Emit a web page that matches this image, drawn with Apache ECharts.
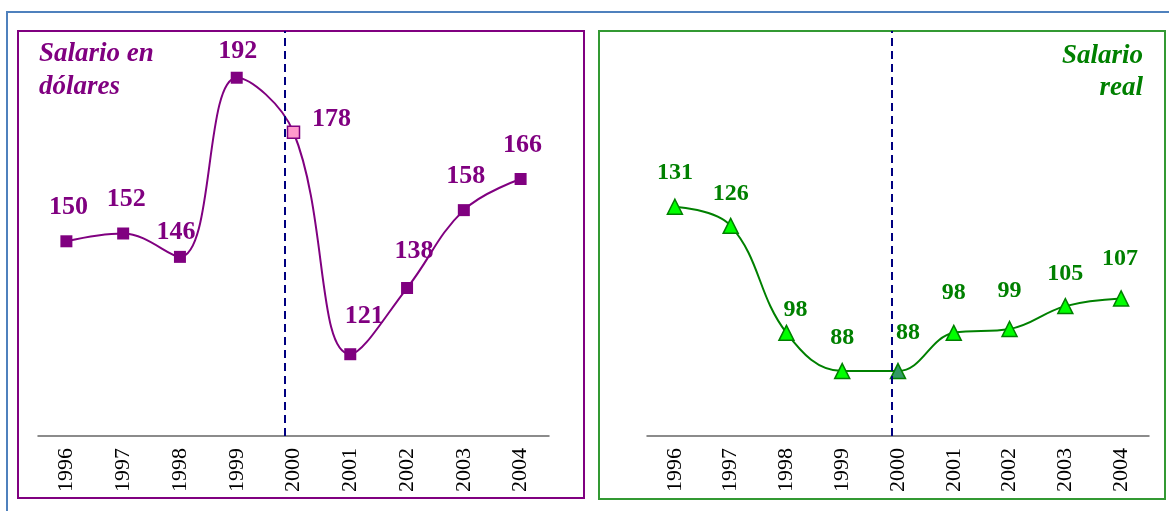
<!DOCTYPE html>
<html>
<head>
<meta charset="utf-8">
<script src="https://cdn.jsdelivr.net/npm/echarts@6/dist/echarts.min.js"></script>
<style>
  html, body { margin: 0; padding: 0; background: #fff; }
  #chart { width: 1169px; height: 511px; }
</style>
</head>
<body>
<div id="chart"></div>
<script>
// Data
// ----------
var years = ['1996', '1997', '1998', '1999', '2000', '2001', '2002', '2003', '2004']
var salarioDolares = [150, 152, 146, 192, 178, 121, 138, 158, 166]
var salarioReal = [131, 126, 98, 88, 88, 98, 99, 105, 107]
// where the dashed break sits, in category units (0 = 1996)
var dividerPos = [3.85, 3.89]

// label nudges so the numbers sit like the original
var shiftLeft = [[2, -15], [3, -15], [-4, -6], [1, -7], [38, 7], [14, -19], [7, -18], [2, -15], [2, -15]]
var shiftRight = [[0, -14], [0, -12], [9, -3], [0, -13], [10, -18], [0, -20], [0, -18], [0, -12], [-1, -19]]

var serif = '"Liberation Serif", "DejaVu Serif", serif'
var purple = '#800080'
var green = '#008000'

function pointsOf(values, shifts, specialIdx, specialStyle) {
    return values.map(function (v, i) {
        var item = { value: v, label: { offset: shifts[i] } }
        if (i === specialIdx) item.itemStyle = specialStyle
        return item
    })
}

function catAxis(gridIndex) {
    return {
        type: 'category', gridIndex: gridIndex, data: years,
        axisLine: { lineStyle: { color: '#666', width: 1.5 } },
        axisTick: { show: false },
        axisLabel: { rotate: 90, margin: 12, color: '#000', fontFamily: serif, fontSize: 22 },
        splitLine: { show: false }
    }
}

function helperAxis(gridIndex) {
    return { type: 'value', gridIndex: gridIndex, min: -0.5, max: 8.5, show: false }
}

function divider(xAxisIndex, yAxisIndex, pos) {
    return {
        type: 'line', xAxisIndex: xAxisIndex, yAxisIndex: yAxisIndex, data: [],
        silent: true,
        markLine: {
            symbol: 'none', silent: true, label: { show: false },
            lineStyle: { color: '#000080', width: 2, type: [8, 5] },
            data: [{ xAxis: pos }]
        }
    }
}

var chart = echarts.init(document.getElementById('chart'), null, { renderer: 'canvas' })

var option = {
    animation: false,
    backgroundColor: '#fff',
    grid: [
        { left: 38, width: 511, top: 31, height: 405 },
        { left: 647, width: 502, top: 31, height: 405 }
    ],
    xAxis: [catAxis(0), catAxis(1), helperAxis(0), helperAxis(1)],
    yAxis: [
        { type: 'value', gridIndex: 0, min: 100, max: 204, show: false },
        { type: 'value', gridIndex: 1, min: 71, max: 177, show: false }
    ],
    graphic: [
        { type: 'rect', shape: { x: 7, y: 12, width: 1200, height: 600 }, style: { fill: null, stroke: '#4f81bd', lineWidth: 2 } },
        { type: 'rect', shape: { x: 18, y: 31, width: 566, height: 467 }, style: { fill: null, stroke: purple, lineWidth: 2 } },
        { type: 'rect', shape: { x: 599, y: 31, width: 566, height: 468 }, style: { fill: null, stroke: '#339933', lineWidth: 2 } },
        {
            type: 'text', x: 39, y: 38,
            style: {
                text: 'Salario en\ndólares', fill: purple, font: 'italic bold 27px ' + serif,
                lineHeight: 33, verticalAlign: 'top', align: 'left'
            }
        },
        {
            type: 'text', x: 1143, y: 40,
            style: {
                text: 'Salario\nreal', fill: green, font: 'italic bold 27px ' + serif,
                lineHeight: 32, verticalAlign: 'top', align: 'right'
            }
        }
    ],
    series: [
        {
            type: 'line', xAxisIndex: 0, yAxisIndex: 0, smooth: 0.4,
            data: pointsOf(salarioDolares, shiftLeft, 4, { color: '#ff99cc', borderColor: purple, borderWidth: 1.5 }),
            symbol: 'rect', symbolSize: 12,
            lineStyle: { color: purple, width: 2 },
            itemStyle: { color: purple },
            label: {
                show: true, position: 'top', distance: 0, color: purple,
                fontFamily: serif, fontWeight: 'bold', fontSize: 26
            },
            z: 3
        },
        {
            type: 'line', xAxisIndex: 1, yAxisIndex: 1, smooth: 0.4,
            data: pointsOf(salarioReal, shiftRight, 4, { color: '#339966', borderColor: green, borderWidth: 1.5 }),
            symbol: 'triangle', symbolSize: 15,
            lineStyle: { color: green, width: 2 },
            itemStyle: { color: '#00ff00', borderColor: green, borderWidth: 1.5 },
            label: {
                show: true, position: 'top', distance: 0, color: green,
                fontFamily: serif, fontWeight: 'bold', fontSize: 24
            },
            z: 3
        },
        divider(2, 0, dividerPos[0]),
        divider(3, 1, dividerPos[1])
    ]
}

chart.setOption(option)
</script>
</body>
</html>
